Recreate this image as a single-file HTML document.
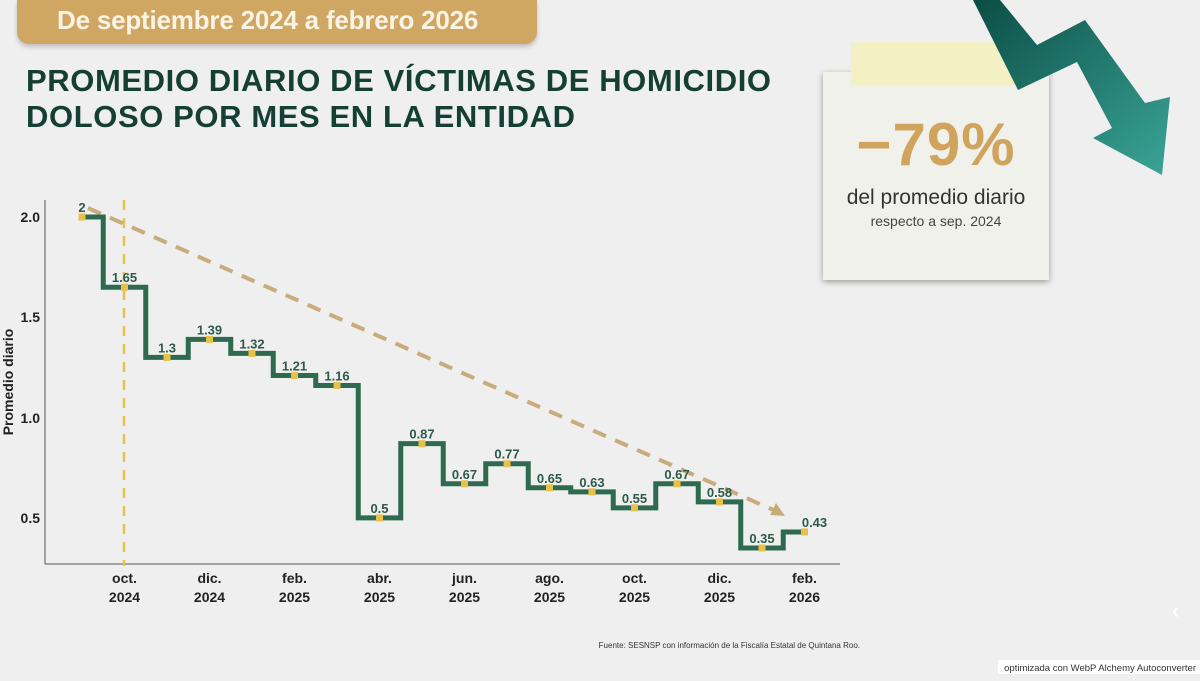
<!DOCTYPE html>
<html><head><meta charset="utf-8"><style>
body{margin:0;width:1200px;height:681px;background:#efefef;overflow:hidden;position:relative;font-family:"Liberation Sans","DejaVu Sans",sans-serif}
.banner{position:absolute;left:17px;top:0;width:520px;height:44px;background:#cfa662;border-radius:0 0 12px 12px;box-shadow:0 3px 5px rgba(0,0,0,.2);color:#fbf4e6;font-weight:bold;font-size:26px;line-height:40px;padding-left:40px;box-sizing:border-box;letter-spacing:-0.2px}
.title{position:absolute;left:26px;top:63px;color:#153f33;font-weight:900;font-size:31px;line-height:36px;letter-spacing:0.6px}
.card{position:absolute;left:823px;top:72px;width:226px;height:208px;background:#f1f1ec;box-shadow:0 2px 6px rgba(0,0,0,.35)}
.tape{position:absolute;left:851px;top:42px;width:180px;height:43px;background:#f3f1c4}
</style></head><body>
<div class="banner">De septiembre 2024 a febrero 2026</div>
<div class="title">PROMEDIO DIARIO DE VÍCTIMAS DE HOMICIDIO<br>DOLOSO POR MES EN LA ENTIDAD</div>
<div class="card"></div><div class="tape"></div>
<div style="position:absolute;left:823px;top:110px;width:226px;text-align:center;color:#d1a45d;font-weight:900;font-size:60px;letter-spacing:1px">−79%</div>
<div style="position:absolute;left:823px;top:186px;width:226px;text-align:center;color:#333;font-size:21px">del promedio diario</div>
<div style="position:absolute;left:823px;top:213px;width:226px;text-align:center;color:#444;font-size:14px">respecto a sep. 2024</div>
<svg style="position:absolute;left:0;top:0" width="1200" height="681">
<defs><linearGradient id="g" x1="0" y1="0" x2="1" y2="1"><stop offset="0" stop-color="#0b4d45"/><stop offset="1" stop-color="#3aa597"/></linearGradient></defs>
<polygon points="973,0 1018,90 1077,62 1112,128 1093,138 1162,175 1170,97 1145,103 1085,20 1037,45 1000,0" fill="url(#g)"/>
<text x="1172" y="618" fill="#fff" font-size="22" font-weight="bold">‹</text>
<g font-family="Liberation Sans,sans-serif">
<line x1="45" y1="200" x2="45" y2="564" stroke="#555" stroke-width="1"/>
<line x1="45" y1="564" x2="840" y2="564" stroke="#555" stroke-width="1"/>
<g font-size="14" font-weight="bold" fill="#222" text-anchor="end">
<text x="40" y="222">2.0</text><text x="40" y="322">1.5</text><text x="40" y="423">1.0</text><text x="40" y="523">0.5</text></g>
<text transform="translate(13,382) rotate(-90)" font-size="14" font-weight="bold" fill="#222" text-anchor="middle">Promedio diario</text>
<line x1="124" y1="200" x2="124" y2="566" stroke="#e8c04a" stroke-width="2.5" stroke-dasharray="10,8"/>
<line x1="88" y1="208" x2="778" y2="512" stroke="#c9ac7c" stroke-width="4" stroke-dasharray="14,10"/>
<polygon points="785,516 770,515 776,503" fill="#c9ac7c"/>
<g font-size="14" font-weight="bold" fill="#222" text-anchor="middle" id="xl"></g>
<path id="st" fill="none" stroke="#2e6a4f" stroke-width="5"/>
<g id="pts"></g>
</g>
<text x="860" y="648" font-size="8" fill="#333" text-anchor="end">Fuente: SESNSP con información de la Fiscalía Estatal de Quintana Roo.</text>
<rect x="998" y="660" width="202" height="14" fill="#fff"/>
<text x="1196" y="671" font-size="9.5" fill="#333" text-anchor="end">optimizada con WebP Alchemy Autoconverter</text>
</svg>
<script>
var v=[2,1.65,1.3,1.39,1.32,1.21,1.16,0.5,0.87,0.67,0.77,0.65,0.63,0.55,0.67,0.58,0.35,0.43];
var X=i=>82+42.5*i,Y=a=>217+(2-a)*200.6,d="";
v.forEach((a,i)=>{var x0=i?X(i)-21.25:X(0),x1=i<17?X(i)+21.25:X(i);d+=(i?"L":"M")+x0+" "+Y(a)+"L"+x1+" "+Y(a);});
document.getElementById("st").setAttribute("d",d);
var p="";v.forEach((a,i)=>{p+='<rect x="'+(X(i)-3.5)+'" y="'+(Y(a)-3.5)+'" width="7" height="7" fill="#e8c04a"/><text x="'+(X(i)+(i==17?10:0))+'" y="'+(Y(a)-5)+'" font-size="13" font-weight="bold" fill="#2e5a4a" text-anchor="middle">'+a+'</text>';});
document.getElementById("pts").innerHTML=p;
var L=[["oct.","2024",1],["dic.","2024",3],["feb.","2025",5],["abr.","2025",7],["jun.","2025",9],["ago.","2025",11],["oct.","2025",13],["dic.","2025",15],["feb.","2026",17]],s="";
L.forEach(l=>{s+='<text x="'+X(l[2])+'" y="583">'+l[0]+'</text><text x="'+X(l[2])+'" y="602">'+l[1]+'</text>';});
document.getElementById("xl").innerHTML=s;
</script>
</body></html>
